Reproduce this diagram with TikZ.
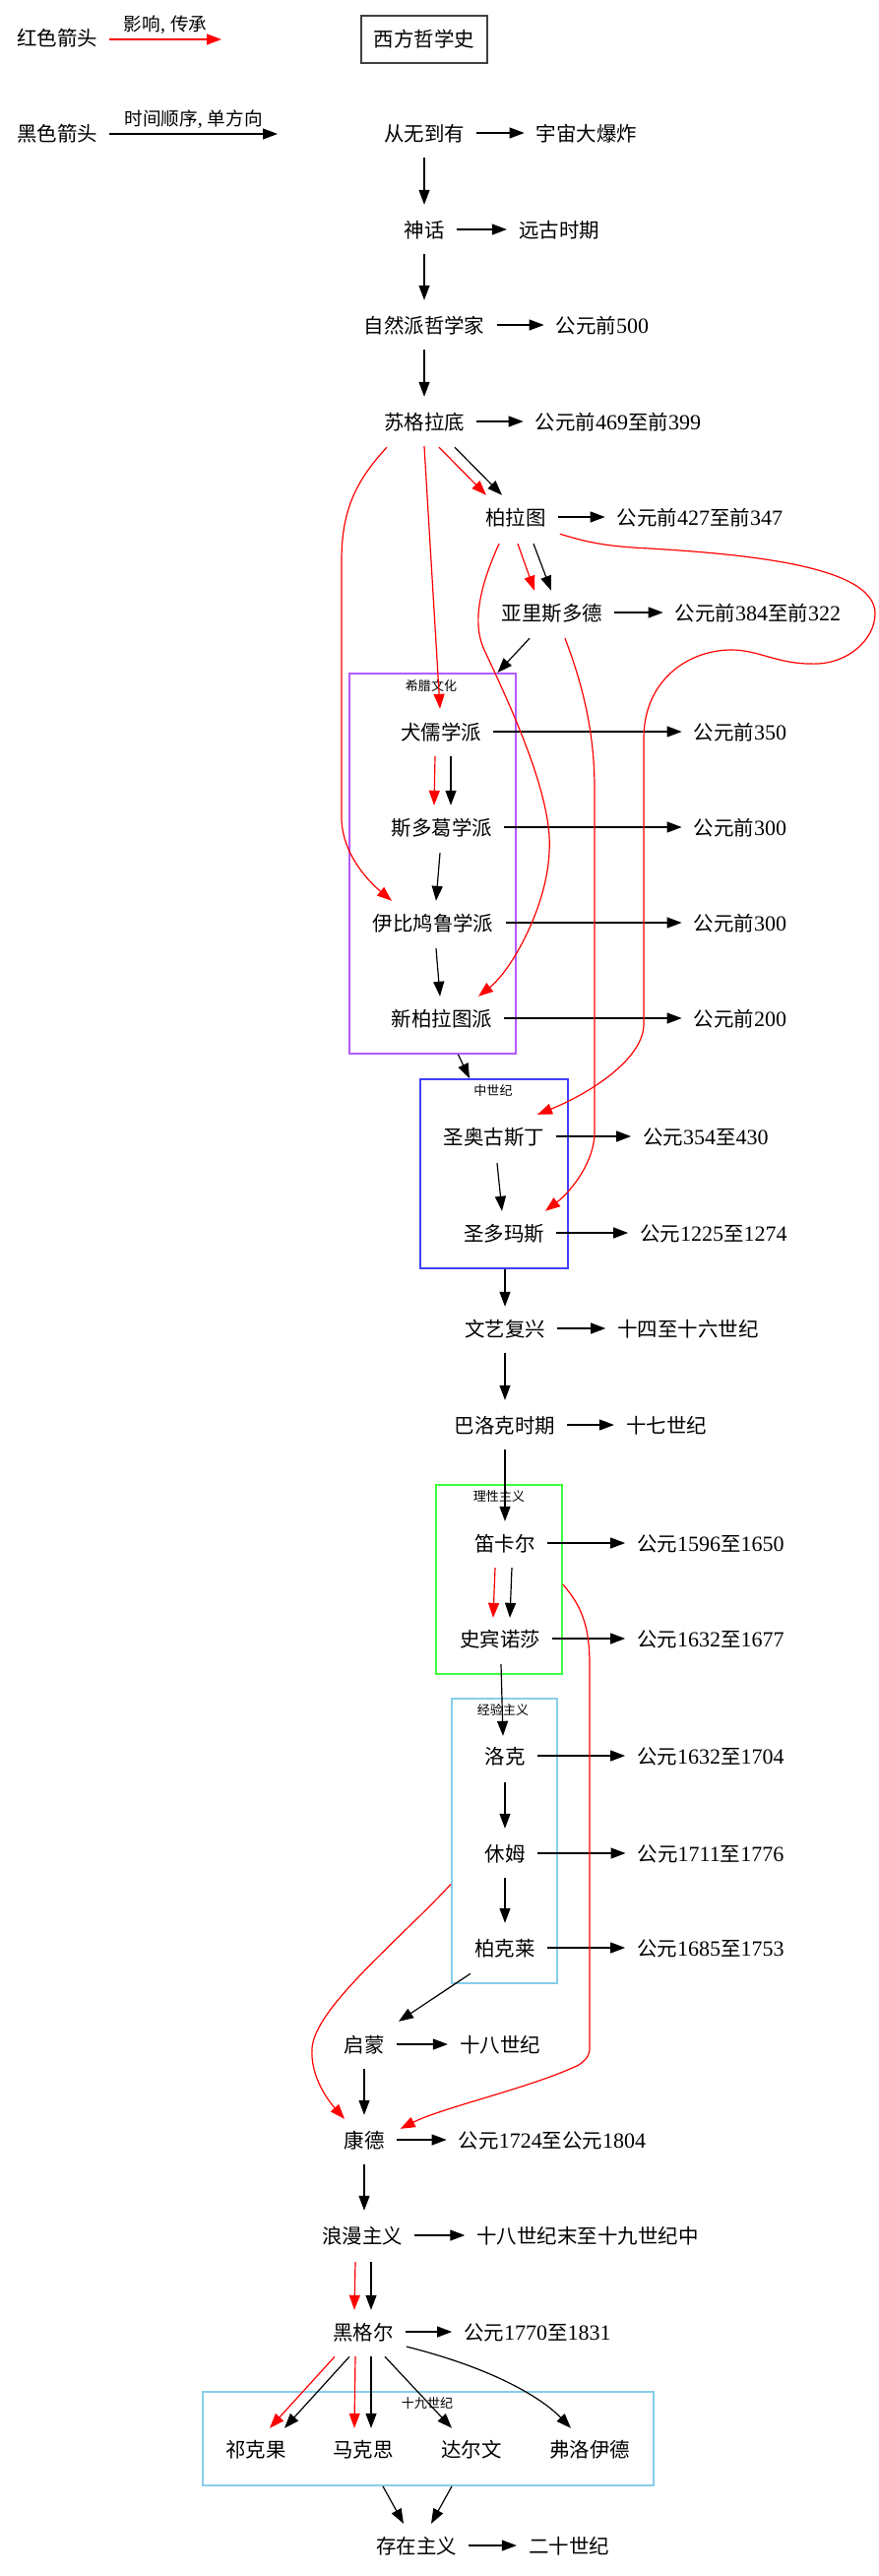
\documentclass[tikz,border=0pt]{standalone}
\usepackage{fontspec}
\setmainfont{Liberation Serif}
\newfontfamily\cjk[Scale=0.93]{Noto Sans CJK SC}
\usetikzlibrary{arrows.meta,calc}
\newcommand\dg[1]{{\rmfamily#1}}
\definecolor{cpurple}{RGB}{180,90,255}
\definecolor{cblue}{RGB}{64,64,255}
\definecolor{cgreen}{RGB}{64,255,64}
\definecolor{csky}{RGB}{135,206,235}
\tikzset{
  nd/.style={font=\fontsize{22}{26}\selectfont\cjk, inner xsep=12pt, inner ysep=0pt, minimum height=50pt, text height=17pt, text depth=1pt},
  lab/.style={font=\fontsize{20}{24}\selectfont\cjk, inner sep=0pt},
  e/.style={-{Triangle[length=15pt,width=11pt]}, line width=1.2pt, draw=black},
  re/.style={e, draw=red, -{Triangle[length=15pt,width=11pt,fill=red]}},
  cl/.style={draw, line width=1.8pt, inner sep=0pt},
  cll/.style={font=\fontsize{14}{16}\selectfont\cjk, inner sep=0pt}
}
\begin{document}
\begin{tikzpicture}[x=1pt,y=-1pt]
\useasboundingbox (0,0) rectangle (892,2616);
\fill[white] (0,0) rectangle (892,2616);

% clusters
\node[cl, draw=cpurple, minimum width=169pt, minimum height=386pt] (cg) at (439.5,877) {};
\node[cl, draw=cblue, minimum width=150pt, minimum height=192pt] (cm) at (502,1192) {};
\node[cl, draw=cgreen, minimum width=128pt, minimum height=192pt] (cr) at (507,1604) {};
\node[cl, draw=csky, minimum width=107pt, minimum height=289pt] (ce) at (512.5,1869.5) {};
\node[cl, draw=csky, minimum width=458pt, minimum height=95pt] (cn) at (435,2476.5) {};
\node[cll] (cgl) at (438,696) {希腊文化};
\node[cll] (cml) at (501,1108) {中世纪};
\node[cll] (crl) at (507,1519) {理性主义};
\node[cll] (cel) at (511,1736) {经验主义};
\node[cll] (cnl) at (434,2441) {十九世纪};

% legend
\node[nd] (lr) at (58,38) {红色箭头};
\node[nd] (lb) at (58,135) {黑色箭头};
\coordinate (lre) at (225,40);
\coordinate (lbe) at (282,136);
\draw[re] ($(lr.east)+(0,2)$) -- (lre) node[midway, above=5pt, lab] {影响\dg{, }传承};
\draw[e] ($(lb.east)+(0,1)$) -- (lbe) node[midway, above=5pt, lab] {时间顺序\dg{, }单方向};

% title
\node[draw=black!75, line width=1.5pt, minimum width=128pt, minimum height=48pt, inner sep=0pt, font=\fontsize{22}{26}\selectfont\cjk] (title) at (431,40) {西方哲学史};

% nodes
\node[nd] (a1) at (431,135) {从无到有};
\node[nd] (a1-t) at (596,135) {宇宙大爆炸};
\node[nd] (a2) at (431,233) {神话};
\node[nd] (a2-t) at (568,233) {远古时期};
\node[nd] (a3) at (431,330) {自然派哲学家};
\node[nd] (a3-t) at (612,330) {公元前\dg{500}};
\node[nd] (a4) at (431,428) {苏格拉底};
\node[nd] (a4-t) at (628,428) {公元前\dg{469}至前\dg{399}};
\node[nd] (a5) at (524,525) {柏拉图};
\node[nd] (a5-t) at (711,525) {公元前\dg{427}至前\dg{347}};
\node[nd] (a6) at (561,622) {亚里斯多德};
\node[nd] (a6-t) at (770,622) {公元前\dg{384}至前\dg{322}};
\node[nd] (g1) at (448,743) {犬儒学派};
\node[nd] (g1-t) at (752,743) {公元前\dg{350}};
\node[nd] (g2) at (449,840) {斯多葛学派};
\node[nd] (g2-t) at (752,840) {公元前\dg{300}};
\node[nd] (g3) at (440,937) {伊比鸠鲁学派};
\node[nd] (g3-t) at (752,937) {公元前\dg{300}};
\node[nd] (g4) at (449,1034) {新柏拉图派};
\node[nd] (g4-t) at (752,1034) {公元前\dg{200}};
\node[nd] (m1) at (502,1154) {圣奥古斯丁};
\node[nd] (m1-t) at (717,1154) {公元\dg{354}至\dg{430}};
\node[nd] (m2) at (512,1252) {圣多玛斯};
\node[nd] (m2-t) at (725,1252) {公元\dg{1225}至\dg{1274}};
\node[nd] (r1) at (513,1349) {文艺复兴};
\node[nd] (r1-t) at (699,1349) {十四至十六世纪};
\node[nd] (b1) at (513,1447) {巴洛克时期};
\node[nd] (b1-t) at (677,1447) {十七世纪};
\node[nd] (d1) at (513,1567) {笛卡尔};
\node[nd] (d1-t) at (722,1567) {公元\dg{1596}至\dg{1650}};
\node[nd] (d2) at (508,1664) {史宾诺莎};
\node[nd] (d2-t) at (722,1664) {公元\dg{1632}至\dg{1677}};
\node[nd] (e1) at (513,1783) {洛克};
\node[nd] (e1-t) at (722,1783) {公元\dg{1632}至\dg{1704}};
\node[nd] (e2) at (513,1882) {休姆};
\node[nd] (e2-t) at (722,1882) {公元\dg{1711}至\dg{1776}};
\node[nd] (e3) at (513,1978) {柏克莱};
\node[nd] (e3-t) at (722,1978) {公元\dg{1685}至\dg{1753}};
\node[nd] (k0) at (370,2076) {启蒙};
\node[nd] (k0-t) at (508,2076) {十八世纪};
\node[nd] (k1) at (370,2173) {康德};
\node[nd] (k1-t) at (561,2173) {公元\dg{1724}至公元\dg{1804}};
\node[nd] (k2) at (368,2270) {浪漫主义};
\node[nd] (k2-t) at (597,2270) {十八世纪末至十九世纪中};
\node[nd] (h1) at (369,2368) {黑格尔};
\node[nd] (h1-t) at (546,2368) {公元\dg{1770}至\dg{1831}};
\node[nd] (n1) at (260,2487) {祁克果};
\node[nd] (n2) at (369,2487) {马克思};
\node[nd] (n3) at (479,2487) {达尔文};
\node[nd] (n4) at (599,2487) {弗洛伊德};
\node[nd] (x1) at (423,2585) {存在主义};
\node[nd] (x1-t) at (578,2585) {二十世纪};

% horizontal time arrows
\foreach \s in {a1,a2,a3,a4,a5,a6,g1,g2,g3,g4,m1,m2,r1,b1,d1,d2,e1,e2,e3,k0,k1,k2,h1,x1}
  \draw[e] (\s.east) -- (\s-t.west);

% main chain
\draw[e] (a1.south) -- (a2.north);
\draw[e] (a2.south) -- (a3.north);
\draw[e] (a3.south) -- (a4.north);
\draw[re] ($(a4.south)+(15,1)$) -- ($(a5.north)+(-30,3)$);
\draw[e] ($(a4.south)+(31,1)$) -- ($(a5.north)+(-14,3)$);
\draw[re] ($(a5.south)+(2,2)$) -- ($(a6.north)+(-18,3)$);
\draw[e] ($(a5.south)+(18,2)$) -- ($(a6.north)+(-1,3)$);
\draw[e] ($(a6.south)+(-23,1)$) -- ($(cg.north)+(66,0)$);
\draw[re] (a4.south) -- ($(g1.north)+(-1,2)$);
\draw[re] ($(a4.south)+(-38,1)$) .. controls (360,490) and (347,520) .. (347,570) -- (347,830) .. controls (347,865) and (372,893) .. ($(g3.north)+(-42,3)$);
\draw[re] ($(a5.south)+(-17,2)$) .. controls (490,590) and (478,630) .. (492,660) .. controls (520,720) and (562,810) .. (558,865) .. controls (556,920) and (520,985) .. ($(g4.north)+(37,3)$);
\draw[re] ($(a5.south east)+(2,-8)$) .. controls (600,552) and (620,555) .. (660,557) .. controls (760,563) and (889,575) .. (889,623) .. controls (889,650) and (860,676) .. (823,674) .. controls (790,674) and (770,660) .. (743,660) .. controls (700,660) and (654,690) .. (654,750) -- (654,1040) .. controls (654,1075) and (600,1110) .. ($(m1.north)+(44,3)$);
\draw[re] ($(a6.south)+(13,1)$) .. controls (590,690) and (604,740) .. (604,800) -- (604,1150) .. controls (604,1180) and (580,1210) .. ($(m2.north)+(42,3)$);

\draw[re] ($(g1.south)+(-6,0)$) -- ($(g2.north)+(-8,3)$);
\draw[e] ($(g1.south)+(10,0)$) -- ($(g2.north)+(9,3)$);
\draw[e] ($(g2.south)+(-2,1)$) -- ($(g3.north)+(3,3)$);
\draw[e] ($(g3.south)+(3,1)$) -- ($(g4.north)+(-2,3)$);

\draw[e] ($(cg.south)+(26,0)$) -- ($(cm.north)+(-25,0)$);
\draw[e] ($(m1.south)+(3,2)$) -- ($(m2.north)+(-2,3)$);
\draw[e] ($(cm.south)+(11,0)$) -- ($(r1.north)+(0,3)$);
\draw[e] (r1.south) -- (b1.north);
\draw[e] (b1.south) -- ($(d1.north)+(0,3)$);
\draw[re] ($(d1.south)+(-10,0)$) -- ($(d2.north)+(-7,4)$);
\draw[e] ($(d1.south)+(7,0)$) -- ($(d2.north)+(10,4)$);
\draw[e] ($(d2.south)+(1,1)$) -- ($(e1.north)+(-2,5)$);
\draw[e] ($(e1.south)+(0,2)$) -- (e2.north);
\draw[e] (e2.south) -- (e3.north);
\draw[e] ($(e3.south)+(-35,1)$) -- ($(k0.north)+(35,2)$);
\draw[e] (k0.south) -- (k1.north);
\draw[e] (k1.south) -- ($(k2.north)+(2,0)$);
\draw[re] ($(ce.west)+(0,44)$) .. controls (400,1975) and (320,2040) .. (317,2080) .. controls (315,2110) and (335,2135) .. ($(k1.north)+(-20,4)$);
\draw[re] ($(cr.east)+(0,5)$) .. controls (590,1630) and (599,1650) .. (599,1690) -- (599,2080) .. controls (599,2088) and (595,2092) .. (588,2097) .. controls (540,2120) and (450,2140) .. ($(k1.north east)+(4,14)$);

\draw[re] ($(k2.south)+(-7,2)$) -- ($(h1.north)+(-9,3)$);
\draw[e] ($(k2.south)+(9,2)$) -- ($(h1.north)+(8,3)$);
\draw[re] ($(h1.south)+(-29,0)$) -- ($(n1.north)+(14,4)$);
\draw[e] ($(h1.south)+(-14,0)$) -- ($(n1.north)+(29,4)$);
\draw[re] ($(h1.south)+(-8,0)$) -- ($(n2.north)+(-9,4)$);
\draw[e] ($(h1.south)+(8,0)$) -- ($(n2.north)+(8,4)$);
\draw[e] ($(h1.south)+(22,0)$) -- ($(n3.north)+(-20,4)$);
\draw[e] ($(h1.east)+(1,15)$) .. controls (520,2410) and (560,2445) .. ($(n4.north)+(-19,4)$);
\draw[e] ($(cn.south)+(-46,0)$) -- ($(x1.north)+(-13,3)$);
\draw[e] ($(cn.south)+(24,0)$) -- ($(x1.north)+(15,3)$);
\end{tikzpicture}
\end{document}
